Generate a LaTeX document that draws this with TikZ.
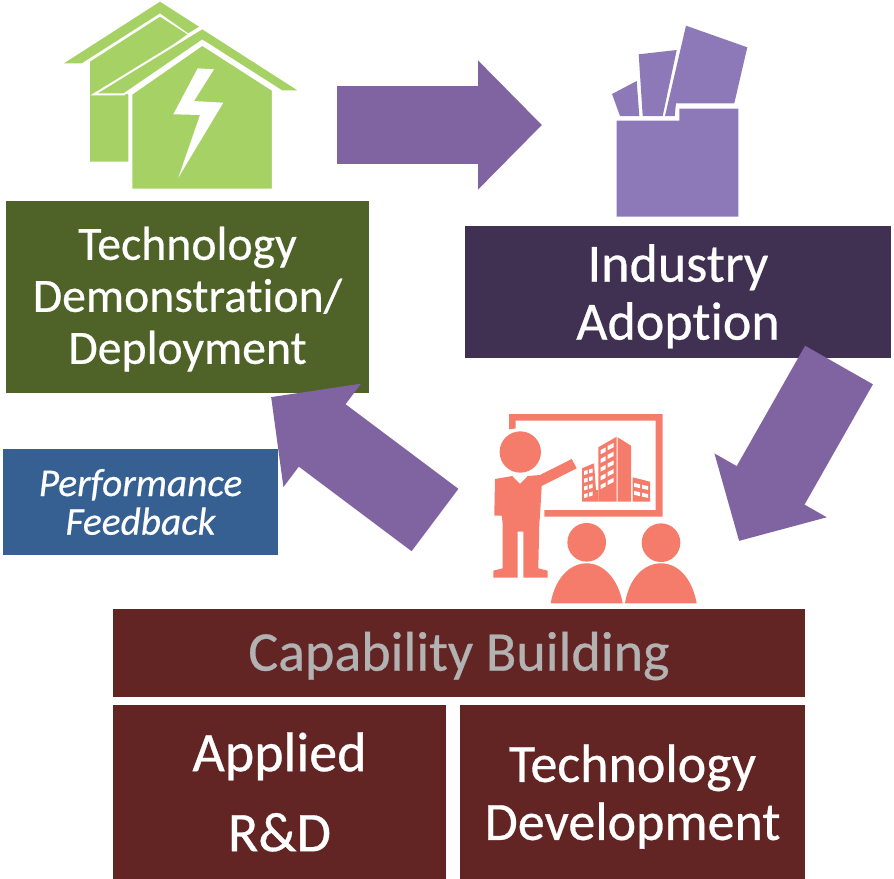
\documentclass[tikz,border=0pt]{standalone}
\usepackage{fontspec}
\setmainfont{Carlito}
\newfontfamily\boxfont[FakeBold=0.5,Ligatures=NoCommon]{Carlito}
\usetikzlibrary{arrows.meta}

\definecolor{demogreen}{HTML}{4F6228}
\definecolor{adoptpurple}{HTML}{403152}
\definecolor{feedbackblue}{HTML}{366092}
\definecolor{capabilityred}{HTML}{632523}
\definecolor{arrowpurple}{HTML}{8064A2}
\definecolor{housegreen}{HTML}{A6D164}
\definecolor{folderpurple}{HTML}{8E79B8}
\definecolor{salmon}{HTML}{F57C6B}

\tikzstyle{mybox}=[rectangle, text=white, align=center, inner sep=0pt]
\tikzstyle{bigtext}=[font=\boxfont\fontsize{40.5}{43.5}\selectfont]
\tikzstyle{myarrow}=[arrowpurple, line width=58.5pt, -{Triangle[length=48pt, width=94pt]}]
\tikzstyle{houseline}=[fill=housegreen, draw=white, line width=1.5pt, line join=miter]

\begin{document}
\begin{tikzpicture}[x=0.75pt, y=-0.75pt]
	\useasboundingbox (0,0) rectangle (894,879);

	% boxes
	\node (demo) at (187.5,297) [mybox, fill=demogreen, minimum width=272.25pt, minimum height=144pt, font=\boxfont\fontsize{35.8}{39}\selectfont] {\rule{0pt}{28pt}Technology\\Demonstration/\\Deployment};
	\node (adoption) at (678,292) [mybox, bigtext, fill=adoptpurple, minimum width=319.5pt, minimum height=99pt] {\rule{0pt}{34.5pt}Industry\\Adoption};
	\node (feedback) at (140.5,502) [mybox, fill=feedbackblue, minimum width=206.25pt, minimum height=79.5pt, font=\boxfont\fontsize{29.5}{29}\selectfont\itshape] {Performance\\Feedback};
	\node (capability) at (459,653) [mybox, fill=capabilityred, minimum width=519pt, minimum height=66pt, text=gray!60, font=\boxfont\fontsize{42}{44}\selectfont] {\rule{0pt}{33.7pt}Capability Building};
	\node (applied) at (279.5,792) [mybox, fill=capabilityred, minimum width=249.75pt, minimum height=130.5pt, font=\boxfont\fontsize{42}{60}\selectfont] {Applied\\R\&D};
	\node (techdev) at (632.5,792) [mybox, bigtext, fill=capabilityred, minimum width=258.75pt, minimum height=130.5pt] {\rule{0pt}{34.9pt}Technology\\Development};

	% big arrows
	\coordinate (demoout) at (337,125);
	\coordinate (adoptin) at (542,125);
	\coordinate (adoptout) at (839,365);
	\coordinate (capin) at (739,541);
	\coordinate (capout) at (435,520);
	\coordinate (demoin) at (271,397);
	\draw[myarrow] (demoout) -- (adoptin);
	\draw[myarrow] (adoptout) -- (capin);
	\draw[myarrow] (capout) -- (demoin);

	% house icon
	\fill[housegreen] (64,63.3) -- (160,1.7) -- (199,26.7) -- (188.3,33.3) -- (160,13.3) -- (81.7,63.3) -- cycle;
	\fill[housegreen] (90,61.7) -- (160,16.7) -- (187.3,34.3) -- (110,90) -- (128.3,94.3) -- (128.3,161.7) -- (90,161.7) -- cycle;
	\path[houseline] (202.3,28) -- (301,91.3) -- (281.7,91.3) -- (202.3,40.7) -- (124,94.3) -- (94,94.3) -- cycle;
	\path[houseline] (131.3,94) -- (202.3,44.7) -- (272.8,90) -- (272.8,189.5) -- (131.3,189.5) -- cycle;
	\fill[white] (197.7,68.3) -- (214,69.3) -- (194,101) -- (223.3,102.7) -- (178.3,177.7) -- (200,115) -- (173.3,114.3) -- cycle;

	% folder icon
	\fill[folderpurple] (616.7,120.7) -- (679.3,120.7) -- (679.3,108.7) -- (738.3,108.7) -- (738.3,216.7) -- (616.7,216.7) -- cycle;
	\fill[folderpurple] (612,94) -- (636.7,81) -- (639.3,116) -- (620,116) -- cycle;
	\fill[folderpurple] (638.7,54.3) -- (676.7,50) -- (662.7,116) -- (642.7,116) -- cycle;
	\fill[folderpurple] (686,25.7) -- (747.3,47.3) -- (734.3,103.3) -- (676,103.3) -- (674.7,116) -- (665,116) -- cycle;

	% presenter icon
	\fill[salmon] (509,429.3) -- (509,414) -- (662.7,414) -- (662.7,516.7) -- (544.3,516.7) -- (544.3,510) -- (655.7,510) -- (655.7,420.7) -- (515.7,420.7) -- (515.7,428.5) -- cycle;
	\fill[salmon] (520.3,452) circle (15.5pt);
	\fill[salmon] (495,479) -- (512.3,476) -- (520,484) -- (527.7,476) -- (540,475) -- (571.7,459) -- (576.7,468.3) -- (541.7,486) -- (540,515.7) -- (539.3,524) -- (538.3,568.3) -- (547.7,570.7) -- (547.7,577.7) -- (523.3,577.7) -- (523.3,531.7) -- (517.7,531.7) -- (517.7,577.7) -- (493.3,577.7) -- (493.3,570.7) -- (502.7,568.3) -- (502.7,524) -- (501.7,515.7) -- (494.3,515.7) -- cycle;
	\fill[salmon] (586.7,542.3) circle (14.5pt);
	\fill[salmon] (661,542.7) circle (14.5pt);
	\fill[salmon] (550.7,603.3) .. controls (555,578) and (570,563.3) .. (586.7,563.3) .. controls (603,563.3) and (618,578) .. (622.7,603.3) -- cycle;
	\fill[salmon] (625,603.3) .. controls (629,578) and (644,563.3) .. (661,563.3) .. controls (678,563.3) and (692,578) .. (696.7,603.3) -- cycle;

	% buildings on the board
	\fill[salmon] (598.3,447.3) -- (616.7,436.7) -- (616.7,501.7) -- (598.3,501.7) -- cycle;
	\fill[salmon] (617.7,437.3) -- (631,445.7) -- (631,501.7) -- (617.7,501.7) -- cycle;
	\fill[salmon] (582,468.3) -- (594,463.3) -- (596,490) -- (598.3,490) -- (598.3,501.7) -- (582,501.7) -- cycle;
	\fill[salmon] (632.7,477.3) -- (650,481.7) -- (650,501.7) -- (632.7,501.7) -- cycle;
	\foreach \row in {0,...,4} {
		\fill[white] (600.7,450+8.7*\row) -- ++(5,-2.5) -- ++(0,4.2) -- ++(-5,2.5) -- cycle;
		\fill[white] (607.7,446+8.7*\row) -- ++(6,-3) -- ++(0,4.2) -- ++(-6,3) -- cycle;
	}
	\foreach \row in {0,...,3} {
		\fill[white] (584,471+7.7*\row) -- ++(3.5,-1) -- ++(0,4) -- ++(-3.5,1) -- cycle;
		\fill[white] (589,469.5+7.7*\row) -- ++(3.5,-1) -- ++(0,4) -- ++(-3.5,1) -- cycle;
	}
	\foreach \row in {0,1} {
		\fill[white] (634,483+8*\row) -- ++(6,1.3) -- ++(0,3.8) -- ++(-6,-1.3) -- cycle;
		\fill[white] (642,484.8+8*\row) -- ++(6,1.3) -- ++(0,3.8) -- ++(-6,-1.3) -- cycle;
	}
\end{tikzpicture}
\end{document}
